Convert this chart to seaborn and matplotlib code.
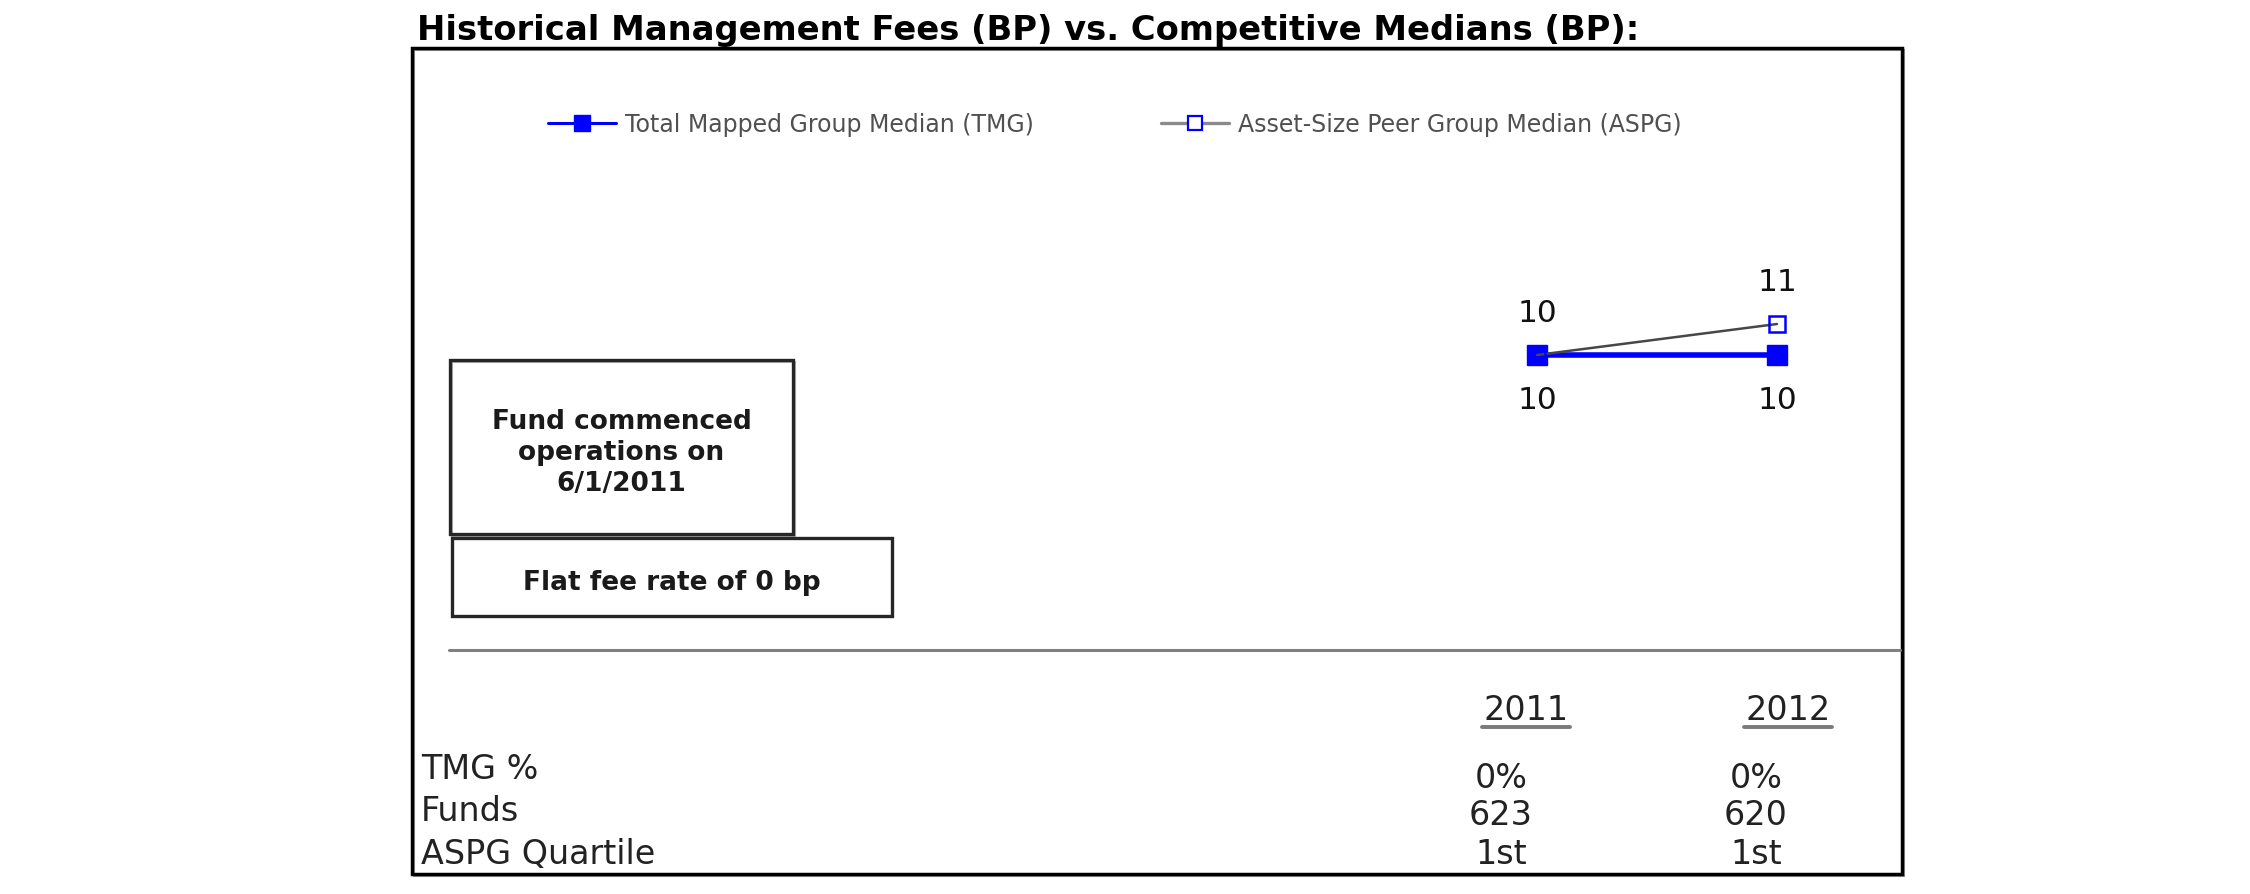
import matplotlib
matplotlib.use("Agg")
import matplotlib.pyplot as plt
import seaborn as sns
from matplotlib.lines import Line2D
from matplotlib.patches import Rectangle

# ---------------- data ----------------
years = [2011, 2012]
tmg_values = [10, 10]          # Total Mapped Group Median (bp)
aspg_values = [10, 11]         # Asset-Size Peer Group Median (bp)
series_labels = ["Total Mapped Group Median (TMG)", "Asset-Size Peer Group Median (ASPG)"]
title_text = "Historical Management Fees (BP) vs. Competitive Medians (BP):"
note_commenced = "Fund commenced\noperations on\n6/1/2011"
note_flat_fee = "Flat fee rate of 0 bp"
table_row_labels = ["TMG %", "Funds", "ASPG Quartile"]
table_values = {2011: ["0%", "623", "1st"], 2012: ["0%", "620", "1st"]}

# ---------------- figure ----------------
sns.set_style("white")
plt.rcParams["font.family"] = ["DejaVu Sans"]

W, H = 2250, 895
DPI = 100
fig = plt.figure(figsize=(W / DPI, H / DPI), dpi=DPI)
fig.patch.set_facecolor("white")


def fx(px):
    return px / W


def fy(py):
    return 1 - py / H


def frect(x0, y0, x1, y1, **kw):
    r = Rectangle((fx(x0), fy(y1)), fx(x1) - fx(x0), fy(y0) - fy(y1),
                  transform=fig.transFigure, fill=False, **kw)
    fig.add_artist(r)
    return r


def fline(x0, y0, x1, y1, **kw):
    ln = Line2D([fx(x0), fx(x1)], [fy(y0), fy(y1)], transform=fig.transFigure, **kw)
    fig.add_artist(ln)
    return ln


# title
fig.text(fx(417), fy(40), title_text, fontsize=24.3, fontweight="bold",
         color="black", ha="left", va="baseline")

# outer frame (with light shadow)
frect(414, 51, 1904, 877, edgecolor="#9a9a9a", linewidth=1.5)
frect(412, 49, 1902, 875, edgecolor="black", linewidth=2.5)

# ---------------- chart axes ----------------
# pixel mapping: 2011 -> x=1537, 2012 -> x=1777 ; value 10 -> y=356, 11 -> y=325
x_left_px, x_right_px = 1417, 1897
y_top_px, y_bot_px = 160, 640
px_per_year = 240.0
px_per_unit = 31.0
ax = fig.add_axes([fx(x_left_px), fy(y_bot_px),
                   fx(x_right_px) - fx(x_left_px), fy(y_top_px) - fy(y_bot_px)])
ax.set_xlim(2011 - (1537 - x_left_px) / px_per_year, 2011 + (x_right_px - 1537) / px_per_year)
ax.set_ylim(10 - (y_bot_px - 356) / px_per_unit, 11 + (325 - y_top_px) / px_per_unit)

sns.lineplot(x=years, y=tmg_values, ax=ax, color="#0000FF", linewidth=4,
             marker="s", markersize=14.5, markeredgecolor="#0000FF",
             markerfacecolor="#0000FF", markeredgewidth=1, zorder=3)
sns.lineplot(x=years, y=aspg_values, ax=ax, color="#474747", linewidth=1.8,
             marker="s", markersize=12, markerfacecolor="none",
             markeredgecolor="#0000FF", markeredgewidth=1.8, zorder=4)
ax.axis("off")

for xv, yv in zip(years, aspg_values):
    ax.annotate(f"{yv:.0f}", (xv, yv), xytext=(0, 30.5), textcoords="offset points",
                ha="center", va="center", fontsize=22.5, color="#111111")
for xv, yv in zip(years, tmg_values):
    ax.annotate(f"{yv:.0f}", (xv, yv), xytext=(0, -32), textcoords="offset points",
                ha="center", va="center", fontsize=22.5, color="#111111")

# ---------------- legend ----------------
leg_fs = 17
leg_fs_px = leg_fs * DPI / 72
h_tmg = Line2D([], [], color="#0000FF", linewidth=2.2, marker="s", markersize=11,
               markerfacecolor="#0000FF", markeredgecolor="#0000FF")
h_aspg = Line2D([], [], color="#8a8a8a", linewidth=2.4, marker="s", markersize=10.5,
                markerfacecolor="white", markeredgecolor="#0000FF", markeredgewidth=1.6)
for handle, label, x0 in [(h_tmg, series_labels[0], 548), (h_aspg, series_labels[1], 1161)]:
    lg = fig.legend(handles=[handle], labels=[label], loc="center left",
                    bbox_to_anchor=(fx(x0), fy(125)), frameon=False,
                    borderpad=0, borderaxespad=0, fontsize=leg_fs,
                    handlelength=68 / leg_fs_px, handletextpad=9 / leg_fs_px,
                    numpoints=1, labelcolor="#505050")

# ---------------- note boxes ----------------
frect(452, 363, 795, 537, edgecolor="#b5b5b5", linewidth=1.5)
frect(450, 361, 793, 535, edgecolor="#262626", linewidth=2.4)
fig.text(fx(621.5), fy(453), note_commenced, fontsize=19, fontweight="bold",
         ha="center", va="center", linespacing=1.27, color="#1a1a1a")
frect(452, 539, 892, 617, edgecolor="#262626", linewidth=2.4)
fig.text(fx(672), fy(583), note_flat_fee, fontsize=19, fontweight="bold",
         ha="center", va="center", color="#1a1a1a")

# separator line
fline(449, 651, 1900, 651, color="#808080", linewidth=2.2)

# ---------------- table ----------------
tbl_fs = 24
header_x = {2011: 1526, 2012: 1788}
value_x = {2011: 1501, 2012: 1756}
row_label_y = [770, 812, 855]
row_value_y = [779, 816, 855]
for yr in years:
    fig.text(fx(header_x[yr]), fy(711), str(yr), fontsize=tbl_fs, ha="center",
             va="center", color="#222222")
    fline(header_x[yr] - 44, 728, header_x[yr] + 44, 728, color="#7a7a7a", linewidth=2.8)
    for val, yy in zip(table_values[yr], row_value_y):
        fig.text(fx(value_x[yr]), fy(yy), val, fontsize=tbl_fs, ha="center",
                 va="center", color="#222222")
for lab, yy in zip(table_row_labels, row_label_y):
    fig.text(fx(421), fy(yy), lab, fontsize=tbl_fs, ha="left", va="center",
             color="#222222")

fig.savefig("out.png", dpi=DPI, facecolor="white")
